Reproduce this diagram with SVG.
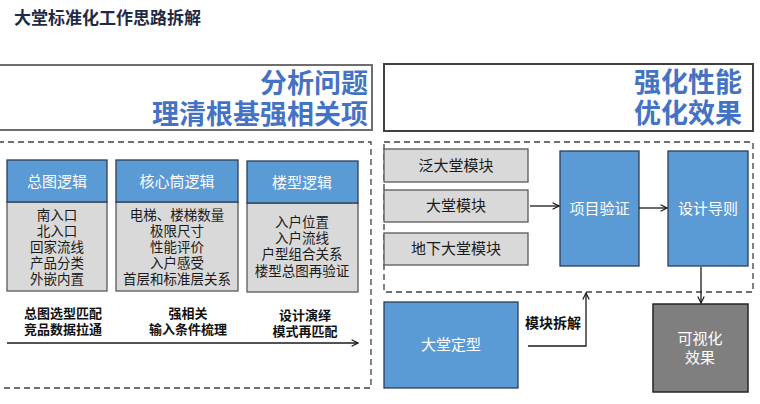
<svg xmlns="http://www.w3.org/2000/svg" width="760" height="404" viewBox="0 0 760 404">
<defs>
<style>
text{font-family:"Noto Sans CJK SC","Noto Sans",sans-serif;}
.title{font-size:17px;font-weight:bold;fill:#1f2a44;}
.hdr{font-size:27px;font-weight:bold;fill:#4472c4;text-anchor:end;}
.hbox{fill:#fff;stroke:#6e6e6e;stroke-width:2;}
.dash{fill:none;stroke:#404040;stroke-width:1.3;stroke-dasharray:6 4;}
.blue{fill:#5b9bd5;stroke:#2e3c55;stroke-width:1.3;}
.gray{fill:#d9d9d9;stroke:#595959;stroke-width:1.3;}
.dark{fill:#7f7f7f;stroke:#262626;stroke-width:1.5;}
.wt{font-size:15px;fill:#fff;text-anchor:middle;}
.bt{font-size:13.5px;fill:#1a1a1a;text-anchor:middle;}
.gt{font-size:15px;fill:#1a1a1a;text-anchor:middle;}
.bold{font-size:13px;font-weight:bold;fill:#111;text-anchor:middle;}
.conn{fill:none;stroke:#1a1a1a;stroke-width:1.3;marker-end:url(#ah);}
</style>
<marker id="ah" viewBox="0 0 10 10" refX="9" refY="5" markerWidth="8" markerHeight="8" orient="auto" markerUnits="userSpaceOnUse">
<path d="M1,1 L9,5 L1,9" fill="none" stroke="#1a1a1a" stroke-width="1.5"/>
</marker>
</defs>
<rect width="760" height="404" fill="#fff"/>
<text class="title" x="14" y="24">大堂标准化工作思路拆解</text>

<g id="header-left">
<rect class="hbox" x="-2" y="65" width="374" height="65"/>
<text class="hdr" x="368" y="93">分析问题</text>
<text class="hdr" x="368" y="124">理清根基强相关项</text>
</g>
<g id="header-right">
<rect class="hbox" x="384" y="64" width="369" height="67" style="stroke:#404040"/>
<text class="hdr" x="742" y="92">强化性能</text>
<text class="hdr" x="742" y="123">优化效果</text>
</g>

<g id="zone-left"><rect class="dash" x="-2" y="142" width="373" height="246"/></g>
<g id="zone-right"><rect class="dash" x="384" y="142" width="369" height="150"/></g>

<g id="card-zongtu">
<rect class="gray" x="7" y="202" width="100" height="89"/>
<rect class="blue" x="7" y="160" width="100" height="42"/>
<text class="wt" x="57" y="187">总图逻辑</text>
<text class="bt" x="57" y="220">南入口</text>
<text class="bt" x="57" y="236">北入口</text>
<text class="bt" x="57" y="252">回家流线</text>
<text class="bt" x="57" y="268">产品分类</text>
<text class="bt" x="57" y="284">外嵌内置</text>
</g>
<g id="card-hexin">
<rect class="gray" x="116" y="202" width="122" height="89"/>
<rect class="blue" x="116" y="160" width="122" height="42"/>
<text class="wt" x="177" y="187">核心筒逻辑</text>
<text class="bt" x="177" y="220">电梯、楼梯数量</text>
<text class="bt" x="177" y="236">极限尺寸</text>
<text class="bt" x="177" y="252">性能评价</text>
<text class="bt" x="177" y="268">入户感受</text>
<text class="bt" x="177" y="284">首层和标准层关系</text>
</g>
<g id="card-louxing">
<rect class="gray" x="247" y="203" width="111" height="89"/>
<rect class="blue" x="247" y="161" width="111" height="42"/>
<text class="wt" x="302" y="188">楼型逻辑</text>
<text class="bt" x="302" y="227">入户位置</text>
<text class="bt" x="302" y="243">入户流线</text>
<text class="bt" x="302" y="259">户型组合关系</text>
<text class="bt" x="302" y="276">楼型总图再验证</text>
</g>

<g id="stage-labels">
<text class="bold" x="63" y="318">总图选型匹配</text>
<text class="bold" x="63" y="334">竞品数据拉通</text>
<text class="bold" x="188" y="318">强相关</text>
<text class="bold" x="188" y="334">输入条件梳理</text>
<text class="bold" x="305" y="320">设计演绎</text>
<text class="bold" x="305" y="336">模式再匹配</text>
</g>

<g id="module-fan"><rect class="gray" x="384" y="149" width="144" height="33"/><text class="gt" x="456" y="171">泛大堂模块</text></g>
<g id="module-datang"><rect class="gray" x="384" y="190" width="144" height="32"/><text class="gt" x="456" y="211">大堂模块</text></g>
<g id="module-dixia"><rect class="gray" x="384" y="233" width="144" height="32"/><text class="gt" x="456" y="254">地下大堂模块</text></g>
<g id="node-xiangmu"><rect class="blue" x="560" y="151" width="79" height="115"/><text class="wt" x="599.5" y="214">项目验证</text></g>
<g id="node-daoze"><rect class="blue" x="668" y="151" width="80" height="115"/><text class="wt" x="708" y="214">设计导则</text></g>
<g id="node-dingxing"><rect class="blue" x="384" y="302" width="134" height="86"/><text class="wt" x="451" y="350">大堂定型</text></g>
<g id="node-keshihua"><rect class="dark" x="653" y="304" width="95" height="88"/><text class="wt" x="700" y="344">可视化</text><text class="wt" x="700" y="363">效果</text></g>

<g id="connectors">
<path class="conn" d="M7,343 H358"/>
<path class="conn" d="M530,206 H559"/>
<path class="conn" d="M639,208 H667"/>
<path class="conn" d="M701,267 V303"/>
<path class="conn" d="M528,346 H586 V293"/>
<text class="bold" x="553" y="328" style="font-size:14px">模块拆解</text>
</g>
</svg>
